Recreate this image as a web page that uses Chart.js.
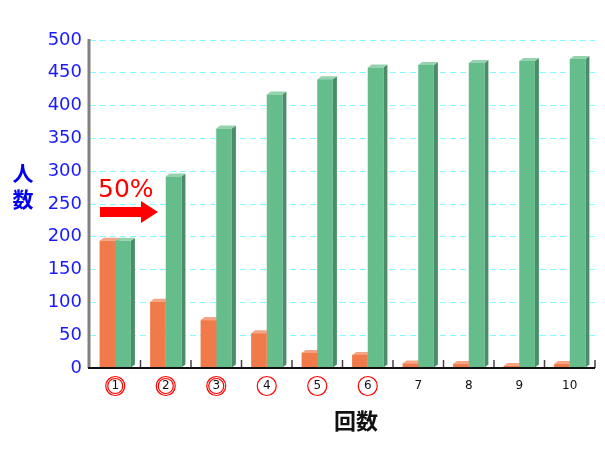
<!DOCTYPE html>
<html><head><meta charset="utf-8">
<script src="https://cdn.jsdelivr.net/npm/chart.js@4.4.1/dist/chart.umd.min.js"></script>
<style>html,body{margin:0;padding:0;background:#fff}#wrap{width:605px;height:450px}</style>
</head><body><div id="wrap"><canvas id="c" width="605" height="450"></canvas></div>
<script>
const categories = ['1','2','3','4','5','6','7','8','9','10'];
const orangeValues = [194, 101, 73, 53, 23, 20, 7, 6, 3, 6];
const greenValues = [194, 292, 365, 417, 440, 458, 462, 465, 468, 471];
const yTicks = [0,50,100,150,200,250,300,350,400,450,500];
const doubleCircled = [0,1,2];
const singleCircled = [3,4,5];

const C_OR = '#f07a4a', C_OR_TOP = '#f5a585', C_OR_SIDE = '#c8603a';
const C_GR = '#66bd8c', C_GR_TOP = '#94d3ae', C_GR_SIDE = '#4a8d68';

const bar3d = {
  id: 'bar3d',
  beforeDatasetsDraw(chart) {
    const ctx = chart.ctx;
    const dx = 4, dy = 3;
    chart.data.datasets.forEach((ds, i) => {
      const meta = chart.getDatasetMeta(i);
      meta.data.forEach(el => {
        const p = el.getProps(['x','y','base','width'], true);
        const l = p.x - p.width/2, r = p.x + p.width/2;
        ctx.save();
        ctx.fillStyle = ds.sideColor;
        ctx.beginPath();
        ctx.moveTo(r, p.y); ctx.lineTo(r+dx, p.y-dy); ctx.lineTo(r+dx, p.base-dy); ctx.lineTo(r, p.base);
        ctx.closePath(); ctx.fill();
        ctx.fillStyle = ds.topColor;
        ctx.beginPath();
        ctx.moveTo(l, p.y); ctx.lineTo(l+dx, p.y-dy); ctx.lineTo(r+dx, p.y-dy); ctx.lineTo(r, p.y);
        ctx.closePath(); ctx.fill();
        ctx.restore();
      });
    });
  }
};

const decor = {
  id: 'decor',
  beforeDatasetsDraw(chart) {
    const ctx = chart.ctx, a = chart.chartArea, xs = chart.scales.x;
    ctx.save();
    ctx.strokeStyle = '#444'; ctx.lineWidth = 1.5;
    const n = categories.length;
    for (let i = 1; i <= n; i++) {
      const bx = xs.getPixelForValue(i - 0.5);
      ctx.beginPath(); ctx.moveTo(bx, a.bottom); ctx.lineTo(bx, a.bottom - 8); ctx.stroke();
    }
    ctx.restore();
  },
  afterDraw(chart) {
    const ctx = chart.ctx, a = chart.chartArea, xs = chart.scales.x;
    ctx.save();
    ctx.strokeStyle = '#808080'; ctx.lineWidth = 3;
    ctx.beginPath(); ctx.moveTo(a.left - 1, a.top - 1); ctx.lineTo(a.left - 1, a.bottom); ctx.stroke();
    ctx.strokeStyle = '#111'; ctx.lineWidth = 2;
    ctx.beginPath(); ctx.moveTo(a.left - 2, a.bottom); ctx.lineTo(a.right, a.bottom); ctx.stroke();
    ctx.strokeStyle = '#ff0000'; ctx.lineWidth = 1.2;
    const cy = a.bottom + 18;
    doubleCircled.concat(singleCircled).forEach(i => {
      const cx = xs.getPixelForValue(i);
      ctx.beginPath(); ctx.arc(cx, cy, 9.5, 0, Math.PI*2); ctx.stroke();
      if (doubleCircled.includes(i)) { ctx.beginPath(); ctx.arc(cx, cy, 7.5, 0, Math.PI*2); ctx.stroke(); }
    });
    ctx.fillStyle = '#0000ee'; ctx.font = 'bold 21px "Noto Sans CJK JP"';
    ctx.textAlign = 'center'; ctx.textBaseline = 'middle';
    ctx.fillText('人', 23, 173); ctx.fillText('数', 23, 199);
    ctx.fillStyle = '#111'; ctx.font = 'bold 22px "Noto Sans CJK JP"';
    ctx.fillText('回数', 356, 421);
    ctx.fillStyle = '#ff0000'; ctx.font = '25px "DejaVu Sans"';
    ctx.textAlign = 'left'; ctx.textBaseline = 'alphabetic';
    ctx.fillText('50%', 98, 197);
    ctx.beginPath();
    ctx.moveTo(100, 207); ctx.lineTo(141, 207); ctx.lineTo(141, 201); ctx.lineTo(158, 212);
    ctx.lineTo(141, 223); ctx.lineTo(141, 217); ctx.lineTo(100, 217); ctx.closePath(); ctx.fill();
    ctx.restore();
  }
};

new Chart(document.getElementById('c'), {
  type: 'bar',
  data: {
    labels: categories,
    datasets: [
      { data: orangeValues, backgroundColor: C_OR, topColor: C_OR_TOP, sideColor: C_OR_SIDE, borderWidth: 0 },
      { data: greenValues, backgroundColor: C_GR, topColor: C_GR_TOP, sideColor: C_GR_SIDE, borderWidth: 0 }
    ]
  },
  options: {
    responsive: false, animation: false, devicePixelRatio: 1,
    layout: { padding: { top: 40, right: 10, left: 0, bottom: 0 } },
    plugins: { legend: { display: false }, tooltip: { enabled: false } },
    datasets: { bar: { categoryPercentage: 0.62, barPercentage: 1.0 } },
    scales: {
      x: {
        grid: { display: false, drawTicks: false },
        border: { display: false },
        ticks: { color: '#111', font: { size: 12, family: 'DejaVu Sans' }, padding: 11, maxRotation: 0 },
        afterFit(s) { s.height = 82; }
      },
      y: {
        min: 0, max: 500,
        afterBuildTicks(s) { s.ticks = yTicks.map(v => ({ value: v })); },
        grid: { color: '#7fffff', lineWidth: 1, drawTicks: false },
        border: { display: false, dash: [6, 4] },
        ticks: { color: '#1a1aff', font: { size: 18, family: 'DejaVu Sans' }, padding: 8 },
        afterFit(s) { s.width = 90; }
      }
    }
  },
  plugins: [decor, bar3d]
});
</script>
</body></html>
